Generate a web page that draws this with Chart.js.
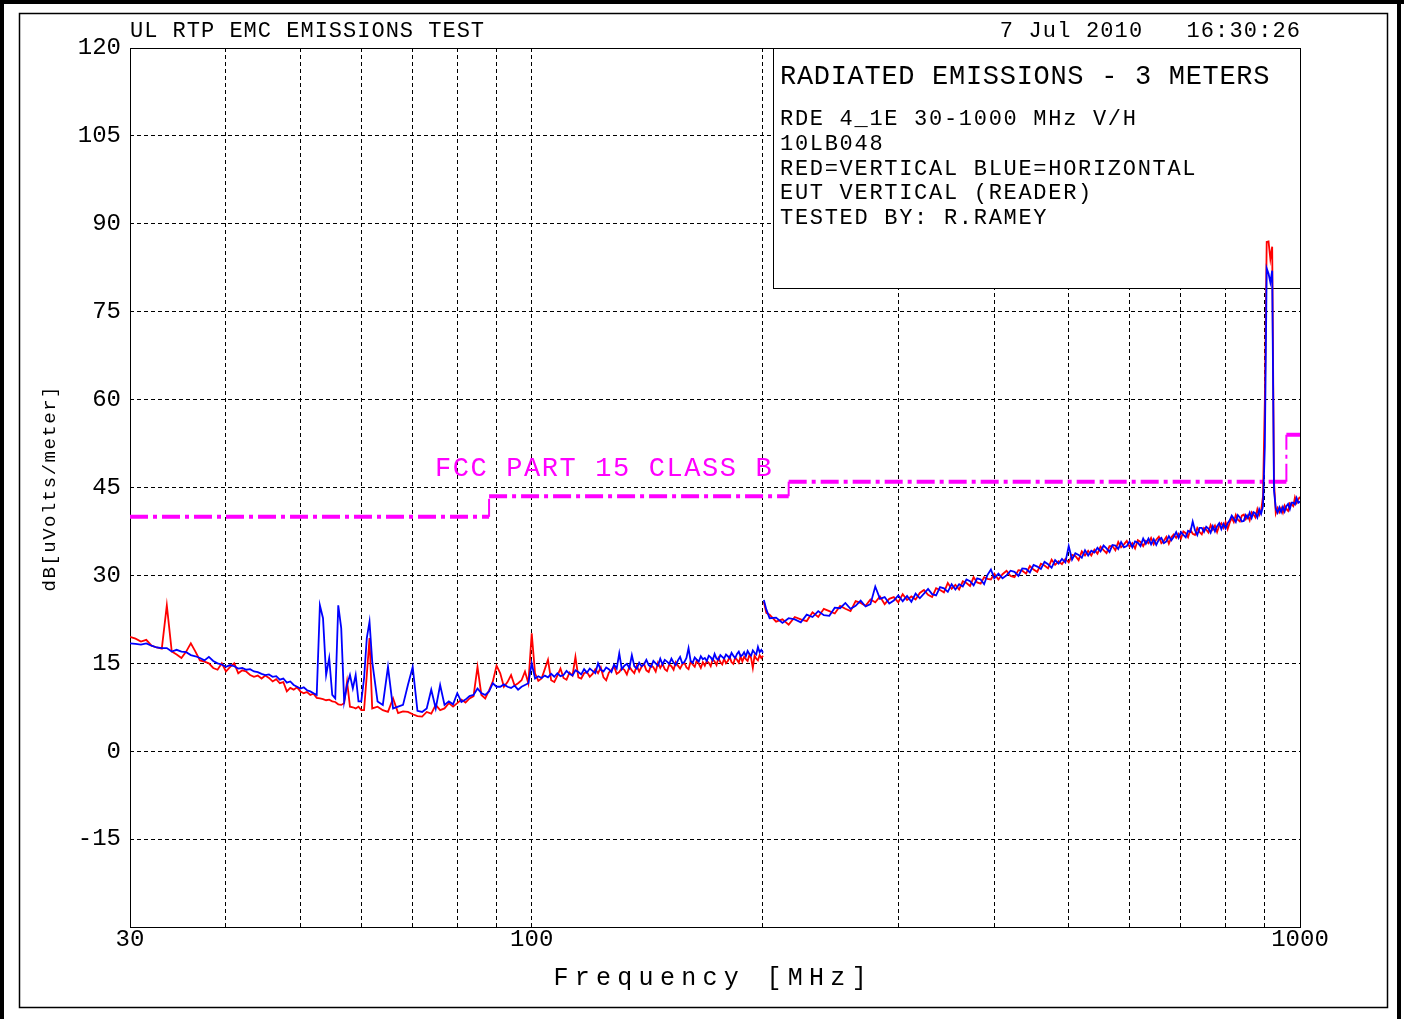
<!DOCTYPE html>
<html>
<head>
<meta charset="utf-8">
<title>UL RTP EMC EMISSIONS TEST</title>
<script src="https://cdn.jsdelivr.net/npm/chart.js@4.4.1/dist/chart.umd.min.js"></script>
<style>
  html, body { margin: 0; padding: 0; background: #fff; }
  canvas { display: block; }
</style>
</head>
<body>
<canvas id="plot" width="1404" height="1019"></canvas>
<script>
// ---- Sweep 1: 30 - 200 MHz (frequency in MHz, level in dBuV/m) ----
const freqLow = [
  30, 30.5, 31, 31.5, 32, 32.5, 33, 33.5, 34, 34.5,
  35, 35.5, 36, 36.5, 37, 37.5, 38, 38.5, 39, 39.5,
  40, 40.5, 41, 41.5, 42, 42.5, 43, 43.5, 44, 44.5,
  45, 45.5, 46, 46.5, 47, 47.5, 48, 48.5, 49, 49.5,
  50, 50.5, 51, 51.5, 52, 52.5, 53, 53.5, 54, 54.5,
  55, 55.5, 56, 56.5, 57, 57.5, 58, 58.5, 59, 59.5,
  60, 60.5, 61, 61.5, 62, 63, 64, 65, 66, 67,
  68, 69, 70, 71, 72, 73, 74, 75, 76, 77,
  78, 79, 80, 81, 82, 83, 84, 85, 86, 87,
  88, 89, 90, 91, 92, 93, 94, 95, 96, 97,
  98, 99, 100, 101, 102, 103, 104, 105, 106, 107,
  108, 109, 110, 111, 112, 113, 114, 115, 116, 117,
  118, 119, 120, 121, 122, 123, 124, 125, 126, 127,
  128, 129, 130, 131, 132, 133, 134, 135, 136, 137,
  138, 139, 140, 141, 142, 143, 144, 145, 146, 147,
  148, 149, 150, 151, 152, 153, 154, 155, 156, 157,
  158, 159, 160, 161, 162, 163, 164, 165, 166, 167,
  168, 169, 170, 171, 172, 173, 174, 175, 176, 177,
  178, 179, 180, 181, 182, 183, 184, 185, 186, 187,
  188, 189, 190, 191, 192, 193, 194, 195, 196, 197,
  198, 199, 200
];
const verticalLow = [
  19.5, 19.2, 18.7, 19.0, 18.0, 17.7, 17.5, 24.9, 17.0, 16.5,
  15.9, 17.0, 18.4, 17.0, 15.5, 15.3, 15.0, 14.2, 13.9, 15.0,
  13.6, 14.4, 15.0, 13.3, 13.8, 13.6, 13.0, 12.7, 12.9, 12.4,
  12.9, 12.5, 11.9, 12.3, 11.6, 11.8, 10.2, 10.8, 10.5, 10.9,
  10.2, 9.9, 10.1, 9.6, 9.8, 9.1, 9.0, 8.9, 8.7, 8.8,
  8.5, 8.4, 8.0, 7.9, 8.2, 11.9, 7.6, 7.5, 7.3, 7.6,
  7.0, 7.0, 13.0, 19.3, 7.3, 7.6, 7.0, 6.7, 9.0, 6.5,
  6.8, 6.7, 6.3, 6.0, 5.9, 6.7, 6.4, 7.9, 7.0, 7.3,
  8.2, 7.6, 8.2, 8.8, 8.3, 9.0, 9.4, 14.4, 9.6, 9.0,
  10.4, 11.9, 14.6, 13.3, 11.0, 11.8, 13.0, 11.2, 11.6, 12.1,
  13.6, 11.6, 20.1, 13.3, 12.0, 12.4, 14.0, 15.6, 12.1, 11.8,
  12.9, 14.1, 12.5, 12.2, 13.4, 12.9, 16.1, 12.6, 12.4, 13.3,
  13.5, 12.7, 13.2, 14.0, 13.3, 14.3, 12.6, 12.1, 13.4, 13.9,
  14.5, 13.2, 13.5, 14.2, 13.9, 13.1, 14.4, 13.8, 13.3, 14.6,
  13.6, 14.4, 14.9, 13.8, 13.5, 14.7, 14.3, 13.6, 15.1, 14.2,
  14.9, 14.0, 13.7, 14.8, 14.5, 13.9, 15.2, 14.6, 14.1, 14.8,
  15.1, 14.3, 14.0, 15.3, 14.8, 14.4, 15.5, 14.9, 14.2, 15.2,
  14.6, 15.4, 15.1, 14.5, 15.7, 15.3, 14.7, 15.9, 15.2, 14.8,
  15.8, 15.0, 15.4, 16.1, 15.2, 14.9, 16.0, 15.6, 15.1, 16.2,
  15.3, 16.1, 15.7, 15.4, 16.4, 15.9, 14.2, 16.3, 15.8, 15.5,
  16.4, 15.9, 16.3
];
const horizontalLow = [
  18.4, 18.3, 18.2, 18.4, 18.0, 17.7, 17.6, 17.6, 17.0, 17.3,
  17.0, 16.9, 16.4, 16.2, 15.9, 15.5, 16.1, 15.4, 15.0, 14.8,
  14.4, 14.7, 14.5, 14.1, 14.2, 13.9, 14.0, 13.6, 13.5, 13.2,
  13.0, 13.1, 12.7, 12.8, 12.2, 12.4, 11.7, 11.9, 11.3, 11.0,
  10.7, 10.9, 10.4, 10.2, 9.9, 9.6, 24.9, 22.7, 13.0, 15.9,
  9.6, 9.0, 24.9, 21.0, 8.5, 11.3, 13.0, 10.7, 13.0, 8.5,
  8.5, 12.4, 19.3, 22.1, 15.3, 8.5, 7.9, 14.4, 7.3, 7.6,
  7.9, 11.3, 14.4, 6.9, 6.7, 7.3, 10.5, 7.3, 11.3, 7.9,
  8.5, 8.0, 9.9, 8.4, 8.8, 9.4, 9.6, 10.7, 9.9, 9.6,
  10.2, 11.6, 11.0, 11.0, 11.4, 11.0, 10.8, 11.2, 10.5, 11.0,
  11.3, 11.6, 15.0, 12.4, 12.8, 12.5, 12.9, 12.6, 13.2, 12.7,
  13.3, 12.8, 13.0, 13.7, 13.2, 12.9, 13.8, 13.5, 13.1, 14.0,
  13.4, 14.1, 13.7, 13.3, 15.0, 13.9, 13.6, 14.3, 14.0, 13.5,
  14.8, 14.1, 16.7, 14.0, 14.6, 14.9, 14.2, 16.4, 14.5, 14.1,
  15.1, 14.5, 14.8, 15.6, 14.7, 14.4, 15.4, 15.0, 14.6, 15.8,
  14.8, 15.6, 15.3, 14.9, 15.8, 15.1, 14.7, 15.5, 16.1, 15.0,
  15.2, 15.9, 17.6, 15.4, 15.1, 16.0, 15.6, 15.3, 16.2, 15.7,
  15.9, 15.4, 16.3, 16.0, 15.5, 16.6, 15.8, 15.6, 16.4, 16.1,
  15.8, 16.5, 16.2, 15.9, 16.8, 16.3, 15.9, 16.6, 17.0, 16.2,
  16.4, 16.9, 16.2, 17.1, 16.6, 16.3, 17.2, 16.8, 16.5, 17.8,
  16.9, 17.3, 16.8
];

// ---- Sweep 2: 200 - 1000 MHz ----
const freqHigh = [
  200.5, 202, 204, 208, 212, 216, 220, 224, 228, 232,
  236, 240, 244, 248, 252, 256, 260, 264, 268, 272,
  276, 280, 284, 288, 292, 296, 300, 304, 308, 312,
  316, 320, 324, 328, 332, 336, 340, 344, 348, 352,
  356, 360, 364, 368, 372, 376, 380, 384, 388, 392,
  396, 400, 405, 410, 415, 420, 425, 430, 435, 440,
  445, 450, 455, 460, 465, 470, 475, 480, 485, 490,
  495, 500, 505, 510, 515, 520, 525, 530, 535, 540,
  545, 550, 555, 560, 565, 570, 575, 580, 585, 590,
  595, 600, 605, 610, 615, 620, 625, 630, 635, 640,
  645, 650, 655, 660, 665, 670, 675, 680, 685, 690,
  695, 700, 705, 710, 715, 720, 725, 730, 735, 740,
  745, 750, 755, 760, 765, 770, 775, 780, 785, 790,
  795, 800, 805, 810, 815, 820, 825, 830, 835, 840,
  845, 850, 855, 860, 865, 870, 875, 880, 885, 890,
  895, 900, 905, 910, 915, 920, 925, 930, 935, 940,
  945, 950, 955, 960, 965, 970, 975, 980, 985, 990,
  995, 1000
];
const verticalHigh = [
  25.5, 23.6, 23.3, 22.1, 22.5, 21.6, 22.9, 22.5, 22.2, 23.7,
  22.9, 24.3, 23.9, 23.5, 24.8, 24.3, 23.9, 25.6, 25.3, 24.8,
  25.9, 25.4, 26.4, 25.1, 26.0, 26.3, 25.4, 26.8, 25.8, 26.4,
  25.9, 27.0, 27.5, 26.7, 26.3, 27.8, 27.5, 27.1, 28.7, 27.7,
  28.4, 27.6, 29.0, 28.7, 28.2, 29.7, 28.8, 28.6, 29.7, 29.4,
  29.3, 30.3, 29.3, 30.2, 30.8, 29.9, 29.7, 30.9, 30.8, 30.3,
  31.6, 31.0, 30.6, 32.0, 31.7, 31.2, 32.7, 31.8, 32.4, 31.9,
  32.8, 32.2, 33.5, 33.3, 32.6, 34.1, 33.4, 34.2, 33.4, 34.4,
  33.7, 34.9, 34.3, 33.8, 35.0, 35.0, 34.3, 35.7, 34.8, 35.3,
  35.9, 34.9, 35.5, 34.6, 36.0, 35.7, 35.0, 35.9, 35.5, 36.4,
  35.3, 36.1, 36.6, 35.5, 35.9, 36.6, 35.4, 36.5, 37.0, 36.4,
  37.1, 36.3, 37.5, 37.2, 36.5, 37.8, 37.1, 36.9, 38.1, 37.4,
  37.0, 38.1, 37.8, 37.3, 38.6, 37.8, 38.5, 37.4, 38.5, 38.9,
  38.1, 39.1, 37.9, 39.0, 39.8, 39.1, 40.3, 39.5, 39.2, 40.2,
  40.4, 39.6, 40.2, 39.4, 40.8, 40.4, 39.9, 41.3, 40.3, 41.0,
  43.5, 60.0, 86.9, 87.0, 84.0, 86.1, 46.0, 40.6, 41.5, 40.8,
  41.5, 40.7, 41.9, 41.3, 41.0, 42.3, 42.1, 41.8, 43.3, 42.4,
  43.0, 43.4
];
const horizontalHigh = [
  25.8, 24.2, 22.7, 22.8, 21.9, 22.7, 22.5, 22.0, 23.3, 22.9,
  23.9, 23.2, 23.1, 24.5, 24.4, 25.3, 24.3, 24.8, 25.7, 24.7,
  25.1, 28.1, 26.0, 26.3, 25.2, 25.7, 26.6, 25.6, 26.5, 25.5,
  26.9, 26.1, 26.9, 27.7, 26.8, 26.6, 28.0, 27.8, 27.2, 28.5,
  27.6, 28.5, 28.1, 29.3, 29.0, 28.3, 29.5, 29.3, 28.5, 30.1,
  31.0, 29.5, 30.3, 29.5, 30.0, 30.8, 30.6, 29.9, 31.2, 31.1,
  30.5, 31.8, 31.5, 31.1, 32.3, 31.9, 31.3, 32.6, 32.0, 32.8,
  32.2, 35.0, 32.7, 33.8, 33.5, 33.0, 34.3, 33.4, 34.2, 33.9,
  34.7, 34.1, 35.1, 34.6, 34.0, 35.2, 35.1, 34.5, 35.7, 34.8,
  35.0, 35.8, 34.8, 35.8, 35.6, 35.0, 36.3, 35.4, 36.3, 35.3,
  36.2, 35.2, 36.1, 36.4, 35.5, 35.8, 36.7, 36.0, 36.6, 37.4,
  36.4, 37.4, 36.9, 36.5, 37.6, 37.4, 39.2, 37.7, 36.9, 38.1,
  38.1, 37.4, 38.3, 38.0, 37.3, 38.4, 37.5, 38.4, 38.9, 37.9,
  38.8, 38.0, 38.9, 39.4, 40.2, 39.7, 39.1, 40.3, 39.9, 39.2,
  39.3, 40.3, 39.8, 40.7, 39.8, 40.8, 40.6, 39.9, 41.3, 40.5,
  41.8, 52.0, 82.4, 81.5, 80.0, 82.0, 44.5, 41.4, 40.7, 41.6,
  40.8, 41.7, 40.9, 41.8, 42.2, 41.3, 42.4, 42.4, 42.1, 43.2,
  42.4, 42.6
];

// ---- FCC Part 15 Class B limit (3 m) ----
const limitEdges = [30, 88, 216, 960, 1000];   // MHz
const limitLevels = [40, 43.5, 46, 54];        // dBuV/m

// ---- Axes ----
const xGrid = [30, 40, 50, 60, 70, 80, 90, 100, 200, 300, 400, 500, 600, 700, 800, 900, 1000];
const xLabelValues = [30, 100, 1000];
const xLabelTexts = ['30', '100', '1000'];
const yGrid = [-30, -15, 0, 15, 30, 45, 60, 75, 90, 105, 120];
const yLabelTexts = ['', '-15', '0', '15', '30', '45', '60', '75', '90', '105', '120'];

// ---- Captions ----
const headerLeft = 'UL RTP EMC EMISSIONS TEST';
const headerRight = '7 Jul 2010   16:30:26';
const infoTitle = 'RADIATED EMISSIONS - 3 METERS';
const infoLines = ['RDE 4_1E 30-1000 MHz V/H', '10LB048', 'RED=VERTICAL BLUE=HORIZONTAL', 'EUT VERTICAL (READER)', 'TESTED BY: R.RAMEY'];
const limitName = 'FCC PART 15 CLASS B';
const xTitle = 'Frequency [MHz]';
const yTitle = 'dB[uVolts/meter]';

const FONT = '"Liberation Mono", "DejaVu Sans Mono", monospace';
const MAGENTA = '#ff00ff';

// fixed-pitch text, like the plotter's stroke font
function plotText(ctx, str, x, baseline, size, pitch, align, color) {
  ctx.save();
  ctx.font = size + 'px ' + FONT;
  ctx.fillStyle = color || '#000';
  ctx.textBaseline = 'alphabetic';
  ctx.textAlign = 'left';
  const natural = ctx.measureText('M').width;
  const extra = pitch - natural;
  ctx.letterSpacing = extra.toFixed(2) + 'px';
  const w = str.length * pitch - extra;
  let x0 = x;
  if (align === 'right') x0 = x - w;
  else if (align === 'center') x0 = x - w / 2;
  ctx.fillText(str, x0, baseline);
  ctx.restore();
}

function toPoints(freqs, levels) {
  return freqs.map((f, i) => ({ x: f, y: levels[i] }));
}

const traceStyle = { pointRadius: 0, borderWidth: 1.8, tension: 0, fill: false, spanGaps: false };

const datasets = [
  Object.assign({ label: 'HORIZONTAL', data: toPoints(freqLow, horizontalLow), borderColor: '#0000ff', order: 1 }, traceStyle),
  Object.assign({ label: 'HORIZONTAL', data: toPoints(freqHigh, horizontalHigh), borderColor: '#0000ff', order: 1 }, traceStyle),
  Object.assign({ label: 'VERTICAL', data: toPoints(freqLow, verticalLow), borderColor: '#ff0000', order: 2 }, traceStyle),
  Object.assign({ label: 'VERTICAL', data: toPoints(freqHigh, verticalHigh), borderColor: '#ff0000', order: 2 }, traceStyle)
];

// limit line: thick horizontal runs, thin risers between them
for (let i = 0; i < limitLevels.length; i++) {
  datasets.push({
    label: limitName,
    data: [{ x: limitEdges[i], y: limitLevels[i] }, { x: limitEdges[i + 1], y: limitLevels[i] }],
    borderColor: MAGENTA, borderWidth: 4, borderDash: [18, 5, 4, 5], pointRadius: 0, order: 3
  });
  if (i > 0) {
    datasets.push({
      label: limitName,
      data: [{ x: limitEdges[i], y: limitLevels[i - 1] }, { x: limitEdges[i], y: limitLevels[i] }],
      borderColor: MAGENTA, borderWidth: 2, borderDash: [18, 5, 4, 5], pointRadius: 0, order: 3
    });
  }
}

const decorations = {
  id: 'decorations',
  beforeDraw(chart) {
    const ctx = chart.ctx;
    ctx.save();
    ctx.fillStyle = '#fff';
    ctx.fillRect(0, 0, chart.width, chart.height);
    ctx.fillStyle = '#000';
    ctx.fillRect(0, 0, chart.width, 4);
    ctx.fillRect(0, 0, 4, chart.height);
    ctx.fillRect(1397, 0, 4, chart.height);
    ctx.strokeStyle = '#000';
    ctx.lineWidth = 1.5;
    ctx.strokeRect(19.5, 13.5, 1368, 994);
    ctx.restore();

    const a = chart.chartArea;
    plotText(ctx, headerLeft, a.left, 37, 22, 14.2, 'left');
    plotText(ctx, headerRight, a.right, 37, 22, 14.35, 'right');
    plotText(ctx, xTitle, 710, 985, 25, 21.3, 'center');

    ctx.save();
    ctx.translate(55, 489);
    ctx.rotate(-Math.PI / 2);
    plotText(ctx, yTitle, 0, 0, 19, 12.9, 'center');
    ctx.restore();
  },
  beforeDatasetsDraw(chart) {
    const ctx = chart.ctx;
    const a = chart.chartArea;

    // plot frame
    ctx.save();
    ctx.strokeStyle = '#000';
    ctx.lineWidth = 1;
    ctx.strokeRect(Math.round(a.left) + 0.5, Math.round(a.top) + 0.5,
                   Math.round(a.right - a.left), Math.round(a.bottom - a.top));

    // information box in the upper right
    const bx = 773.5, by = Math.round(a.top) + 0.5, bw = Math.round(a.right) - 773, bh = 240;
    ctx.fillStyle = '#fff';
    ctx.fillRect(bx, by, bw, bh);
    ctx.strokeRect(bx, by, bw, bh);
    ctx.restore();

    plotText(ctx, infoTitle, 780, 84, 27, 16.9, 'left');
    const baselines = [125, 150, 175, 199, 224];
    infoLines.forEach((t, i) => plotText(ctx, t, 780, baselines[i], 22, 14.9, 'left'));

    // limit name above the 88-216 MHz step
    plotText(ctx, limitName, 435, 476, 27, 17.8, 'left', MAGENTA);
  }
};

new Chart(document.getElementById('plot'), {
  type: 'line',
  data: { datasets },
  options: {
    responsive: false,
    animation: false,
    devicePixelRatio: 1,
    layout: { padding: { left: 20, right: 104, top: 48, bottom: 0 } },
    plugins: { legend: { display: false }, tooltip: { enabled: false }, title: { display: false } },
    elements: { point: { radius: 0 }, line: { tension: 0 } },
    scales: {
      x: {
        type: 'logarithmic',
        min: 30, max: 1000,
        afterBuildTicks: s => { s.ticks = xGrid.map(v => ({ value: v })); },
        afterFit: s => { s.height = 92; },
        grid: { color: '#000', lineWidth: 1, drawTicks: false },
        border: { display: false, dash: [4, 3] },
        ticks: {
          autoSkip: false, maxRotation: 0, minRotation: 0, padding: 1, color: '#000',
          font: { family: FONT, size: 24, lineHeight: 1 },
          callback: v => { const i = xLabelValues.indexOf(v); return i < 0 ? '' : xLabelTexts[i]; }
        }
      },
      y: {
        type: 'linear',
        min: -30, max: 120,
        afterBuildTicks: s => { s.ticks = yGrid.map(v => ({ value: v })); },
        afterFit: s => { s.width = 110; },
        grid: { color: '#000', lineWidth: 1, drawTicks: false },
        border: { display: false, dash: [4, 3] },
        ticks: {
          padding: 9, color: '#000',
          font: { family: FONT, size: 24, lineHeight: 1 },
          callback: v => { const i = yGrid.indexOf(v); return i < 0 ? '' : yLabelTexts[i]; }
        }
      }
    }
  },
  plugins: [decorations]
});
</script>
</body>
</html>
